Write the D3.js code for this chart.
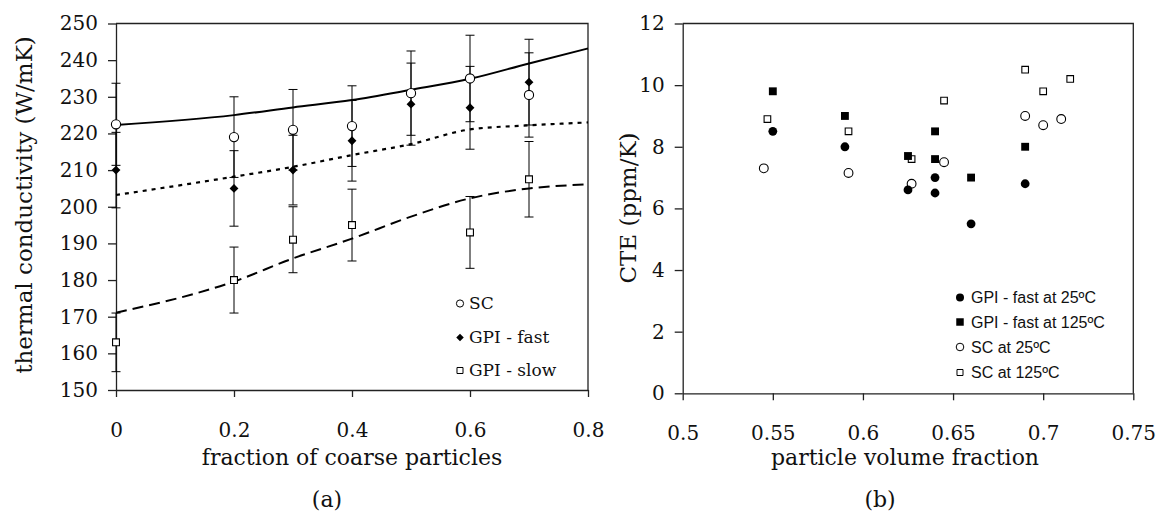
<!DOCTYPE html>
<html><head><meta charset="utf-8">
<script src="https://cdn.jsdelivr.net/npm/d3@7"></script>
<style>html,body{margin:0;padding:0;background:#fff;}svg{display:block;}</style>
</head><body>
<script>
// ---- Panel (a) data ----
const fracX = [0, 0.2, 0.3, 0.4, 0.5, 0.6, 0.7];
const scVals = [222.5, 219, 221, 222, 231, 235, 230.5];
const scErr = [11.2, 11, 11, 11, 11.5, 11.8, 11.5];
const fastVals = [210, 205, 210, 218, 228, 227, 234];
const fastErr = [10.3, 10.3, 9.5, 11, 11.2, 11.3, 11.7];
const slowVals = [163, 180, 191, 195, 193, 207.5];
const slowX = [0, 0.2, 0.3, 0.4, 0.6, 0.7];
const slowErr = [8, 9, 9, 9.8, 9.8, 10.3];
const curveX = [0, 0.2, 0.3, 0.4, 0.5, 0.6, 0.7, 0.8];
const scCurve = [222.3, 225.0, 227.1, 229.1, 231.9, 234.9, 239.1, 243.2];
const fastCurve = [203.2, 208.2, 210.9, 214.1, 217.1, 221.1, 222.2, 223.0];
const slowCurve = [171.1, 179.6, 185.9, 191.3, 197.3, 202.3, 205.0, 206.1];
const aXTicks = [0, 0.2, 0.4, 0.6, 0.8];
const aYTicks = [150, 160, 170, 180, 190, 200, 210, 220, 230, 240, 250];
const aLegend = ["SC", "GPI - fast", "GPI - slow"];

// ---- Panel (b) data ----
const fast25X = [0.55, 0.59, 0.625, 0.64, 0.64, 0.66, 0.69];
const fast25Y = [8.5, 8.0, 6.6, 7.0, 6.5, 5.5, 6.8];
const fast125X = [0.55, 0.59, 0.625, 0.64, 0.64, 0.66, 0.69];
const fast125Y = [9.8, 9.0, 7.7, 8.5, 7.6, 7.0, 8.0];
const sc25X = [0.545, 0.592, 0.627, 0.645, 0.69, 0.70, 0.71];
const sc25Y = [7.3, 7.15, 6.8, 7.5, 9.0, 8.7, 8.9];
const sc125X = [0.547, 0.592, 0.627, 0.645, 0.69, 0.70, 0.715];
const sc125Y = [8.9, 8.5, 7.6, 9.5, 10.5, 9.8, 10.2];
const bXTicks = [0.5, 0.55, 0.6, 0.65, 0.7, 0.75];
const bYTicks = [0, 2, 4, 6, 8, 10, 12];
const bLegend = ["GPI - fast at 25ºC", "GPI - fast at 125ºC", "SC at 25ºC", "SC at 125ºC"];

const W = 1158, H = 521;
const serif = "'DejaVu Serif', serif";
const sans = "'Liberation Sans', Arial, sans-serif";
const svg = d3.select("body").append("svg").attr("width", W).attr("height", H);

function frame(g, x, y, xt, yt, xfmt, yfmt) {
  const [x0, x1] = x.range(), [y0, y1] = y.range();
  g.append("path").attr("d", `M${x0},${y1}H${x1}V${y0}`).attr("fill", "none").attr("stroke", "#222").attr("stroke-width", 1.3);
  const ax = g.append("g").attr("transform", `translate(0,${y0})`)
    .call(d3.axisBottom(x).tickValues(xt).tickSize(7).tickSizeOuter(0).tickPadding(26).tickFormat(xfmt));
  const ay = g.append("g").attr("transform", `translate(${x0},0)`)
    .call(d3.axisLeft(y).tickValues(yt).tickSize(8).tickSizeOuter(0).tickPadding(10).tickFormat(yfmt));
  [ax, ay].forEach(a => {
    a.selectAll("path,line").attr("stroke", "#222").attr("stroke-width", 1.3);
    a.selectAll("text").attr("font-family", serif).attr("font-size", 20).attr("fill", "#111");
  });
}

// ---------- Panel (a) ----------
const xa = d3.scaleLinear().domain([0, 0.8]).range([116, 588]);
const ya = d3.scaleLinear().domain([150, 250]).range([390, 23.5]);
const ga = svg.append("g");
frame(ga, xa, ya, aXTicks, aYTicks, d => d === 0 ? "0" : String(d), d => String(d));

const lineA = d3.line().x((d, i) => xa(curveX[i])).y(d => ya(d)).curve(d3.curveMonotoneX);
ga.append("path").attr("d", lineA(scCurve)).attr("fill", "none").attr("stroke", "#000").attr("stroke-width", 2);
ga.append("path").attr("d", lineA(fastCurve)).attr("fill", "none").attr("stroke", "#000").attr("stroke-width", 2.2).attr("stroke-dasharray", "4,5");
ga.append("path").attr("d", lineA(slowCurve)).attr("fill", "none").attr("stroke", "#000").attr("stroke-width", 2).attr("stroke-dasharray", "11,6");

function errBars(xs, vals, errs) {
  vals.forEach((v, i) => {
    const cx = xa(xs[i]), t = ya(v + errs[i]), b = ya(v - errs[i]);
    ga.append("path").attr("d", `M${cx},${t}V${b}M${cx - 4.5},${t}H${cx + 4.5}M${cx - 4.5},${b}H${cx + 4.5}`)
      .attr("stroke", "#000").attr("stroke-width", 1).attr("fill", "none");
  });
}
errBars(fracX, scVals, scErr);
errBars(fracX, fastVals, fastErr);
errBars(slowX, slowVals, slowErr);

const diamond = d3.symbol().type(d3.symbolDiamond2).size(50);
const square8 = d3.symbol().type(d3.symbolSquare2).size(60);
ga.selectAll(".sl").data(slowVals).join("path").attr("d", square8)
  .attr("transform", (d, i) => `translate(${xa(slowX[i])},${ya(d)})`).attr("fill", "#fff").attr("stroke", "#000").attr("stroke-width", 1.1);
ga.selectAll(".fa").data(fastVals).join("path").attr("d", diamond)
  .attr("transform", (d, i) => `translate(${xa(fracX[i])},${ya(d)})`).attr("fill", "#000");
ga.selectAll(".sc").data(scVals).join("circle").attr("cx", (d, i) => xa(fracX[i])).attr("cy", d => ya(d)).attr("r", 4.6)
  .attr("fill", "#fff").attr("stroke", "#000").attr("stroke-width", 1.1);

// legend a
const legA = ga.append("g");
const legAy = [303.5, 337.5, 370.5];
legA.append("circle").attr("cx", 460).attr("cy", legAy[0]).attr("r", 3.6).attr("fill", "#fff").attr("stroke", "#000");
legA.append("path").attr("d", d3.symbol().type(d3.symbolDiamond2).size(36)).attr("transform", `translate(460,${legAy[1]})`).attr("fill", "#000");
legA.append("path").attr("d", d3.symbol().type(d3.symbolSquare2).size(46)).attr("transform", `translate(460,${legAy[2]})`).attr("fill", "#fff").attr("stroke", "#000");
aLegend.forEach((t, i) => legA.append("text").attr("x", 469).attr("y", legAy[i]).attr("dy", "0.35em")
  .attr("font-family", serif).attr("font-size", 17).attr("fill", "#111").text(t));

ga.append("text").attr("x", 352).attr("y", 465).attr("text-anchor", "middle").attr("font-family", serif).attr("font-size", 22).attr("fill", "#111").text("fraction of coarse particles");
ga.append("text").attr("transform", "translate(32,205) rotate(-90)").attr("text-anchor", "middle").attr("font-family", serif).attr("font-size", 23).attr("fill", "#111").text("thermal conductivity (W/mK)");
ga.append("text").attr("x", 327).attr("y", 507).attr("text-anchor", "middle").attr("font-family", serif).attr("font-size", 22).attr("fill", "#111").text("(a)");

// ---------- Panel (b) ----------
const xb = d3.scaleLinear().domain([0.5, 0.75]).range([682.7, 1133.3]);
const yb = d3.scaleLinear().domain([0, 12]).range([393.3, 23.5]);
const gb = svg.append("g");
frame(gb, xb, yb, bXTicks, bYTicks, d => String(+d.toFixed(2)), d => String(d));

const sqF = d3.symbol().type(d3.symbolSquare).size(62);
const sqO = d3.symbol().type(d3.symbolSquare2).size(56);
gb.selectAll(".s125").data(sc125Y).join("path").attr("d", sqO)
  .attr("transform", (d, i) => `translate(${xb(sc125X[i])},${yb(d)})`).attr("fill", "#fff").attr("stroke", "#000").attr("stroke-width", 1.1);
gb.selectAll(".f125").data(fast125Y).join("path").attr("d", sqF)
  .attr("transform", (d, i) => `translate(${xb(fast125X[i])},${yb(d)})`).attr("fill", "#000");
gb.selectAll(".s25").data(sc25Y).join("circle").attr("cx", (d, i) => xb(sc25X[i])).attr("cy", d => yb(d)).attr("r", 4.4)
  .attr("fill", "#fff").attr("stroke", "#000").attr("stroke-width", 1.1);
gb.selectAll(".f25").data(fast25Y).join("circle").attr("cx", (d, i) => xb(fast25X[i])).attr("cy", d => yb(d)).attr("r", 4.4)
  .attr("fill", "#000");

const legB = gb.append("g");
const legBy = [297.5, 322, 347, 372.5];
legB.append("circle").attr("cx", 960).attr("cy", legBy[0]).attr("r", 4).attr("fill", "#000");
legB.append("path").attr("d", d3.symbol().type(d3.symbolSquare).size(56)).attr("transform", `translate(960,${legBy[1]})`).attr("fill", "#000");
legB.append("circle").attr("cx", 960).attr("cy", legBy[2]).attr("r", 3.8).attr("fill", "#fff").attr("stroke", "#000");
legB.append("path").attr("d", d3.symbol().type(d3.symbolSquare2).size(46)).attr("transform", `translate(960,${legBy[3]})`).attr("fill", "#fff").attr("stroke", "#000");
bLegend.forEach((t, i) => legB.append("text").attr("x", 971).attr("y", legBy[i]).attr("dy", "0.36em")
  .attr("font-family", sans).attr("font-size", 16).attr("fill", "#111").text(t));

gb.append("text").attr("x", 905).attr("y", 465).attr("text-anchor", "middle").attr("font-family", serif).attr("font-size", 22).attr("fill", "#111").text("particle volume fraction");
gb.append("text").attr("transform", "translate(636,208) rotate(-90)").attr("text-anchor", "middle").attr("font-family", serif).attr("font-size", 23).attr("fill", "#111").text("CTE (ppm/K)");
gb.append("text").attr("x", 880).attr("y", 507).attr("text-anchor", "middle").attr("font-family", serif).attr("font-size", 22).attr("fill", "#111").text("(b)");
</script>
</body></html>
